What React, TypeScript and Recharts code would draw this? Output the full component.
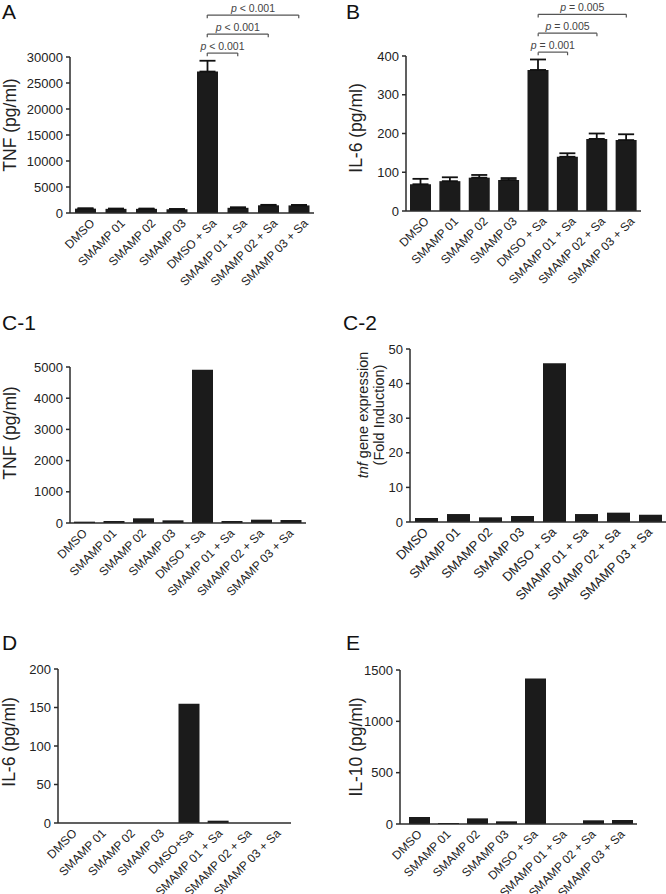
import { Bar, BarChart, ErrorBar, ReferenceLine, XAxis, YAxis } from 'recharts';

const FONT = '"Liberation Sans", Arial, Helvetica, sans-serif';
const AXIS = '#2b2b2b';
const BAR = '#1b1b1b';

const groups = [
  'DMSO',
  'SMAMP 01',
  'SMAMP 02',
  'SMAMP 03',
  'DMSO + Sa',
  'SMAMP 01 + Sa',
  'SMAMP 02 + Sa',
  'SMAMP 03 + Sa',
];
const groupsD = [
  'DMSO',
  'SMAMP 01',
  'SMAMP 02',
  'SMAMP 03',
  'DMSO+Sa',
  'SMAMP 01 + Sa',
  'SMAMP 02 + Sa',
  'SMAMP 03 + Sa',
];

// A: TNF, mean + SEM
const tnfA = [840, 800, 800, 720, 27200, 1000, 1480, 1460];
const tnfASem = [60, 50, 50, 50, 2080, 100, 90, 90];
// B: IL-6, mean + SEM
const il6B = [69, 77, 86, 80, 364, 140, 186, 183];
const il6BSem = [14, 10, 7, 5, 27, 9, 14, 15];
// C-1, C-2, D, E
const tnfC1 = [43, 64, 150, 85, 4915, 64, 107, 96];
const tnfC2 = [1.16, 2.3, 1.35, 1.74, 45.9, 2.3, 2.7, 2.1];
const il6D = [0, 0, 0, 0, 155, 3, 0, 0];
const il10E = [68, 10, 55, 26, 1416, 0, 36, 39];

const ticksA = [0, 5000, 10000, 15000, 20000, 25000, 30000];
const ticksB = [0, 100, 200, 300, 400];
const ticksC1 = [0, 1000, 2000, 3000, 4000, 5000];
const ticksC2 = [0, 10, 20, 30, 40, 50];
const ticksD = [0, 50, 100, 150, 200];
const ticksE = [0, 500, 1000, 1500];

const pA = ['< 0.001', '< 0.001', '< 0.001'];
const pB = ['= 0.001', '= 0.005', '= 0.005'];

function XTick(props: any) {
  const { x, y, payload, dx, size } = props;
  const tx = x + dx;
  const ty = y + 11;
  return (
    <text
      x={tx}
      y={ty}
      textAnchor="end"
      transform={`rotate(-45 ${tx} ${ty})`}
      fontSize={size}
      fill="#222"
      fontFamily={FONT}
    >
      {payload.value}
    </text>
  );
}

interface PanelProps {
  left: number;
  top: number;
  width: number;
  height: number;
  x0: number;
  x1: number;
  yT: number;
  y0: number;
  padLeft?: number;
  cats: string[];
  values: number[];
  sem?: number[];
  ticks: number[];
  pvals?: string[];
  label: React.ReactNode;
  labelX: number;
  labelY: number;
  barSize: number;
  tickDx: number;
  tickFont?: number;
}

function Panel(p: PanelProps) {
  const max = p.ticks[p.ticks.length - 1];
  const data = p.cats.map((name, i) => ({
    name,
    value: p.values[i],
    err: p.sem ? [0, p.sem[i]] : undefined,
  }));
  const margin = { top: p.yT - p.top, right: p.left + p.width - p.x1, left: 0, bottom: 0 };
  const yw = p.x0 - p.left;
  const xh = p.top + p.height - p.y0;
  const drop = max * 0.02;
  const from = p.cats[4];

  return (
    <div style={{ position: 'absolute', left: p.left, top: p.top }}>
      <BarChart width={p.width} height={p.height} data={data} margin={margin}>
        <XAxis
          dataKey="name"
          interval={0}
          tickLine={false}
          tickSize={0}
          tickMargin={0}
          height={xh}
          padding={{ left: p.padLeft ?? 0, right: 0 }}
          axisLine={{ stroke: AXIS, strokeWidth: 1.5 }}
          tick={(tp: any) => <XTick {...tp} dx={p.tickDx} size={p.tickFont ?? 12} />}
        />
        <YAxis
          type="number"
          domain={[0, max]}
          ticks={p.ticks}
          interval={0}
          width={yw}
          tickSize={4}
          tickMargin={3}
          axisLine={{ stroke: AXIS, strokeWidth: 1.5 }}
          tickLine={{ stroke: AXIS, strokeWidth: 1.5 }}
          tick={{ fontSize: 13, fill: '#222', fontFamily: FONT }}
          label={{
            content: () => (
              <g
                transform={`translate(${p.labelX - p.left} ${p.labelY - p.top}) rotate(-90)`}
              >
                {p.label}
              </g>
            ),
          }}
        />
        <Bar dataKey="value" fill={BAR} barSize={p.barSize} isAnimationActive={false}>
          {p.sem && (
            <ErrorBar
              dataKey="err"
              direction="y"
              width={8}
              stroke="#111"
              strokeWidth={1.8}
              isAnimationActive={false}
            />
          )}
        </Bar>
        {p.pvals &&
          p.pvals.map((pv, i) => {
            const lvl = max * (1.025 + i * 0.122);
            const to = p.cats[5 + i];
            return [
              <ReferenceLine
                key={`h${i}`}
                segment={[
                  { x: from, y: lvl },
                  { x: to, y: lvl },
                ]}
                ifOverflow="visible"
                stroke="#555"
                strokeWidth={1.2}
                label={{
                  content: (lp: any) => {
                    const vb = lp.viewBox || {};
                    return (
                      <text
                        x={vb.x + vb.width / 2}
                        y={vb.y - 3.5}
                        textAnchor="middle"
                        fontSize={10.5}
                        fill="#444"
                        fontFamily={FONT}
                      >
                        <tspan fontStyle="italic">p</tspan> {pv}
                      </text>
                    );
                  },
                }}
              />,
              <ReferenceLine
                key={`l${i}`}
                segment={[
                  { x: from, y: lvl },
                  { x: from, y: lvl - drop },
                ]}
                ifOverflow="visible"
                stroke="#555"
                strokeWidth={1.2}
              />,
              <ReferenceLine
                key={`r${i}`}
                segment={[
                  { x: to, y: lvl },
                  { x: to, y: lvl - drop },
                ]}
                ifOverflow="visible"
                stroke="#555"
                strokeWidth={1.2}
              />,
            ];
          })}
      </BarChart>
    </div>
  );
}

function yTitle(text: string, size = 17.5) {
  return (
    <text x={0} y={0} dy="0.35em" textAnchor="middle" fontSize={size} fill="#222" fontFamily={FONT}>
      {text}
    </text>
  );
}

const c2Title = (
  <g>
    <text x={0} y={-5.5} dy="0.35em" textAnchor="middle" fontSize={14.5} fill="#222" fontFamily={FONT}>
      <tspan fontStyle="italic">tnf</tspan> gene expression
    </text>
    <text x={0} y={10.5} dy="0.35em" textAnchor="middle" fontSize={14.5} fill="#222" fontFamily={FONT}>
      (Fold Induction)
    </text>
  </g>
);

export default function App() {
  const letters = [
    { t: 'A', x: 2, y: 19 },
    { t: 'B', x: 346, y: 19 },
    { t: 'C-1', x: 2, y: 330 },
    { t: 'C-2', x: 343, y: 330 },
    { t: 'D', x: 2, y: 650 },
    { t: 'E', x: 346, y: 650 },
  ];
  return (
    <div
      style={{
        position: 'absolute',
        left: 0,
        top: 0,
        width: 666,
        height: 894,
        background: '#fff',
        fontFamily: FONT,
      }}
    >
      <svg width={666} height={894} style={{ position: 'absolute', left: 0, top: 0 }}>
        {letters.map((l) => (
          <text key={l.t} x={l.x} y={l.y} fontSize={21} fill="#111" fontFamily={FONT}>
            {l.t}
          </text>
        ))}
      </svg>
      <Panel
        left={0}
        top={0}
        width={320}
        height={300}
        x0={70}
        x1={314}
        yT={57}
        y0={213}
        cats={groups}
        values={tnfA}
        sem={tnfASem}
        ticks={ticksA}
        pvals={pA}
        label={yTitle('TNF (pg/ml)')}
        labelX={10}
        labelY={125}
        barSize={21}
        tickDx={10}
      />
      <Panel
        left={333}
        top={0}
        width={333}
        height={300}
        x0={406}
        x1={641}
        yT={56}
        y0={211}
        cats={groups}
        values={il6B}
        sem={il6BSem}
        ticks={ticksB}
        pvals={pB}
        label={yTitle('IL-6 (pg/ml)')}
        labelX={356}
        labelY={128}
        barSize={21}
        tickDx={9}
      />
      <Panel
        left={0}
        top={300}
        width={320}
        height={300}
        x0={70}
        x1={306}
        yT={367}
        y0={523}
        cats={groups}
        values={tnfC1}
        ticks={ticksC1}
        label={yTitle('TNF (pg/ml)')}
        labelX={10}
        labelY={433}
        barSize={21}
        tickDx={3}
      />
      <Panel
        left={333}
        top={300}
        width={333}
        height={310}
        x0={410}
        x1={666}
        yT={349}
        y0={522}
        cats={groups}
        values={tnfC2}
        ticks={ticksC2}
        label={c2Title}
        labelX={368}
        labelY={415}
        barSize={23}
        tickDx={3}
        tickFont={13}
      />
      <Panel
        left={0}
        top={600}
        width={300}
        height={294}
        x0={58}
        x1={291}
        yT={669}
        y0={823}
        cats={groupsD}
        values={il6D}
        ticks={ticksD}
        label={yTitle('IL-6 (pg/ml)')}
        labelX={9}
        labelY={742}
        barSize={21}
        tickDx={5}
      />
      <Panel
        left={333}
        top={600}
        width={333}
        height={294}
        x0={400}
        x1={637}
        yT={670}
        y0={824}
        padLeft={5}
        cats={groups}
        values={il10E}
        ticks={ticksE}
        label={yTitle('IL-10 (pg/ml)')}
        labelX={356}
        labelY={747}
        barSize={21}
        tickDx={3}
      />
    </div>
  );
}
